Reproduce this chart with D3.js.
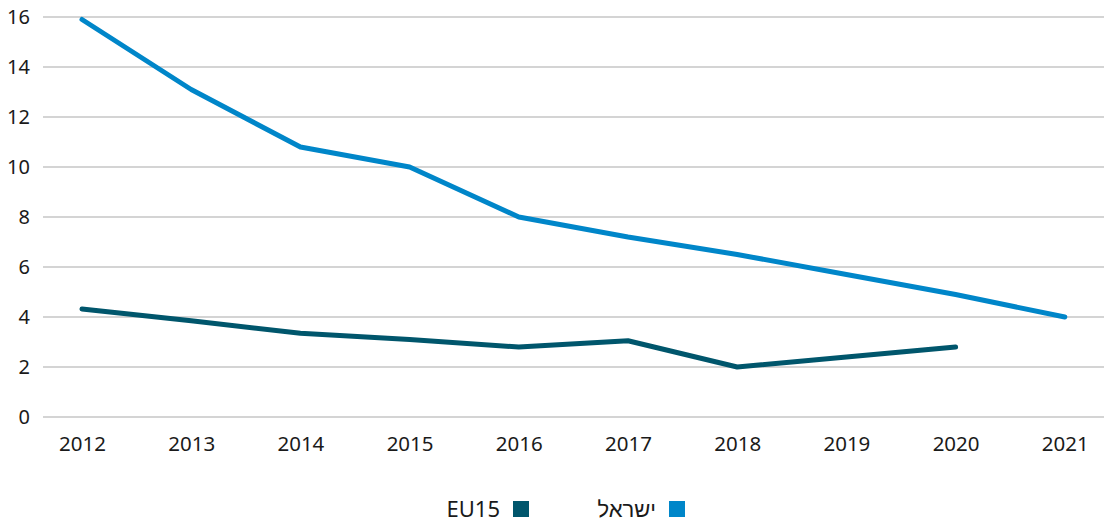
<!DOCTYPE html>
<html>
<head>
<meta charset="utf-8">
<script src="https://cdn.jsdelivr.net/npm/d3@7"></script>
<style>
  body { margin: 0; background: #fff; }
  text { font-family: "Noto Sans", sans-serif; fill: #1a1a1a; }
</style>
</head>
<body>
<div id="chart-area"></div>
<script>
const years = ["2012", "2013", "2014", "2015", "2016", "2017", "2018", "2019", "2020", "2021"];
const israel = [15.9, 13.1, 10.8, 10.0, 8.0, 7.2, 6.5, 5.7, 4.9, 4.0];
const eu15 = [4.32, 3.85, 3.35, 3.1, 2.8, 3.05, 2.0, 2.4, 2.8, null];
const yTicks = [0, 2, 4, 6, 8, 10, 12, 14, 16];
const seriesNames = ["EU15", "ישראל"];

const chartSize = { width: 1104, height: 522 };
const colors = { israel: "#0086c9", eu15: "#00566c" };

const svg = d3.select("#chart-area")
    .append("svg")
    .attr("width", chartSize.width)
    .attr("height", chartSize.height);

const x = d3.scalePoint().domain(years).range([82, 1064.8]);
const y = d3.scaleLinear().domain([0, 16]).range([417, 17]);

// gridlines
svg.append("g")
    .selectAll("line")
    .data(yTicks)
    .join("line")
    .attr("x1", 43)
    .attr("x2", chartSize.width)
    .attr("y1", d => y(d))
    .attr("y2", d => y(d))
    .attr("stroke", "#aaaaaa")
    .attr("stroke-width", 1.2);

// y axis labels
const yAxis = d3.axisLeft(y).tickValues(yTicks).tickSize(0).tickPadding(0);
const gy = svg.append("g").attr("transform", "translate(30,0)").call(yAxis);
gy.select(".domain").remove();
gy.selectAll("text")
    .attr("font-size", 20)
    .attr("font-family", "Noto Sans, sans-serif")
    .attr("fill", "#1a1a1a");

// x axis labels
const xAxis = d3.axisBottom(x).tickSize(0).tickPadding(0);
const gx = svg.append("g").attr("transform", "translate(0,436)").call(xAxis);
gx.select(".domain").remove();
gx.selectAll("text")
    .attr("font-size", 20.5)
    .attr("font-family", "Noto Sans, sans-serif")
    .attr("fill", "#1a1a1a");

const line = d3.line()
    .defined(d => d.v != null)
    .x(d => x(d.year))
    .y(d => y(d.v));

const toPoints = vals => years.map((year, i) => ({ year, v: vals[i] }));

svg.append("path")
    .attr("d", line(toPoints(eu15)))
    .attr("fill", "none")
    .attr("stroke", colors.eu15)
    .attr("stroke-width", 5)
    .attr("stroke-linecap", "round")
    .attr("stroke-linejoin", "round");

svg.append("path")
    .attr("d", line(toPoints(israel)))
    .attr("fill", "none")
    .attr("stroke", colors.israel)
    .attr("stroke-width", 5)
    .attr("stroke-linecap", "round")
    .attr("stroke-linejoin", "round");

// legend: text to the left of the swatch
const legend = [
    { name: seriesNames[0], color: colors.eu15, sq: 513 },
    { name: seriesNames[1], color: colors.israel, sq: 669 },
];
const lg = svg.append("g");
legend.forEach(item => {
    lg.append("rect")
        .attr("x", item.sq)
        .attr("y", 501)
        .attr("width", 16)
        .attr("height", 16)
        .attr("fill", item.color);
    lg.append("text")
        .attr("x", item.sq - 13)
        .attr("y", 517)
        .attr("text-anchor", "end")
        .attr("font-size", 22)
        .text(item.name);
});
</script>
</body>
</html>
